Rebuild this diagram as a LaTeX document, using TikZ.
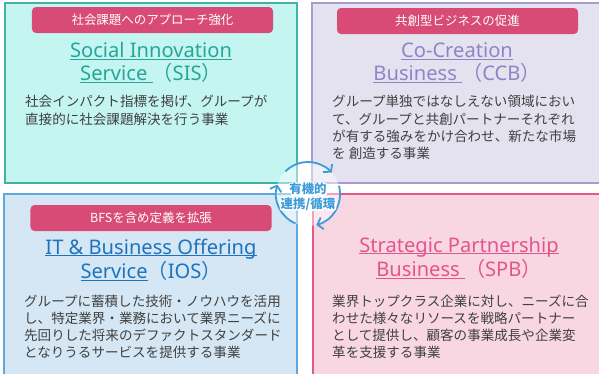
\documentclass[tikz,border=0pt]{standalone}
\usepackage{fontspec}
\setmainfont{Noto Sans CJK JP}
\newfontfamily\ttlfont{Noto Sans}
\usetikzlibrary{arrows.meta}
\definecolor{sisfill}{HTML}{C4F5F1}
\definecolor{sisline}{HTML}{40B3A5}
\definecolor{sistitle}{HTML}{26A69A}
\definecolor{ccbfill}{HTML}{E5E2EF}
\definecolor{ccbline}{HTML}{A89BD3}
\definecolor{ccbtitle}{HTML}{8E84C8}
\definecolor{iosfill}{HTML}{D5E7F4}
\definecolor{iosline}{HTML}{5FA8DE}
\definecolor{iostitle}{HTML}{1E73BE}
\definecolor{spbfill}{HTML}{F8D7E2}
\definecolor{spbline}{HTML}{E2588A}
\definecolor{spbtitle}{HTML}{E3558A}
\definecolor{hdrc}{HTML}{D84B77}
\definecolor{bodyc}{HTML}{404040}
\definecolor{cyc}{HTML}{3D9BD9}
\newcommand\myul[1]{\setbox0\hbox{#1}\rlap{\rule[-2pt]{\wd0}{0.9pt}}\box0}
\newcommand\haloed[1]{\special{pdf:literal direct 1 1 1 RG 3 w 1 j 2 Tr}#1\special{pdf:literal direct 0 Tr}}
\begin{document}
\begin{tikzpicture}[x=1bp,y=-1bp,
  box/.style={line width=1.5bp, inner sep=0pt, outer sep=0pt},
  hdr/.style={fill=hdrc, rounded corners=4bp, minimum width=241bp, minimum height=26bp, inner sep=0pt, text=white, font=\fontsize{12.5}{14}\selectfont},
  ttl/.style={inner sep=0pt, font=\fontsize{20.2}{22}\selectfont},
  bd/.style={inner sep=0pt, anchor=west, text=bodyc, font=\fontsize{13.6}{15}\selectfont},
  cyarr/.style={draw=cyc, line width=1.8bp, -{Straight Barb[length=5bp, width=12bp]}},
  ctx/.style={inner sep=0pt, font=\bfseries\fontsize{12.5}{13}\selectfont}
]
\useasboundingbox (0,0) rectangle (599,373);
% boxes
\node[box, draw=sisline, fill=sisfill, minimum width=292bp, minimum height=180bp] (sis) at (151,93) {};
\node[box, draw=ccbline, fill=ccbfill, minimum width=289bp, minimum height=180bp] (ccb) at (456.5,93) {};
\node[box, draw=iosline, fill=iosfill, minimum width=293bp, minimum height=182bp] (ios) at (150.5,285) {};
\node[box, draw=spbline, fill=spbfill, minimum width=289bp, minimum height=182bp] (spb) at (457.5,285) {};
% headers
\node[hdr] (h1) at (152.5,20) {社会課題へのアプローチ強化};
\node[hdr] (h2) at (457.5,21) {共創型ビジネスの促進};
\node[hdr] (h3) at (151,218) {BFSを含め定義を拡張};
% titles
\node[ttl, text=sistitle] (t1a) at (151,51) {{\ttlfont\myul{Social Innovation}}};
\node[ttl, text=sistitle] (t1b) at (151,73) {{\ttlfont\myul{Service\ }}（{\ttlfont SIS}）};
\node[ttl, text=ccbtitle] (t2a) at (457,51) {{\ttlfont\myul{Co-Creation}}};
\node[ttl, text=ccbtitle] (t2b) at (457,73) {{\ttlfont\myul{Business\ }}（{\ttlfont CCB}）};
\node[ttl, text=iostitle] (t3a) at (151,249) {{\ttlfont\myul{IT \& Business Offering}}};
\node[ttl, text=iostitle] (t3b) at (151,271) {{\ttlfont\myul{Service}}（{\ttlfont IOS}）};
\node[ttl, text=spbtitle] (t4a) at (459,247) {{\ttlfont\myul{Strategic Partnership}}};
\node[ttl, text=spbtitle] (t4b) at (459,269) {{\ttlfont\myul{Business\ }}（{\ttlfont SPB}）};
% bodies
\node[bd] (b1a) at (25,101) {社会インパクト指標を掲げ、グループが};
\node[bd] (b1b) at (25,119) {直接的に社会課題解決を行う事業};
\node[bd] (b2a) at (332,101) {グループ単独ではなしえない領域におい};
\node[bd] (b2b) at (332,119) {て、グループと共創パートナーそれぞれ};
\node[bd] (b2c) at (332,136) {が有する強みをかけ合わせ、新たな市場};
\node[bd] (b2d) at (332,153) {を 創造する事業};
\node[bd] (b3a) at (24,301) {グループに蓄積した技術・ノウハウを活用};
\node[bd] (b3b) at (24,318) {し、特定業界・業務において業界ニーズに};
\node[bd] (b3c) at (24,335) {先回りした将来のデファクトスタンダード};
\node[bd] (b3d) at (24,352) {となりうるサービスを提供する事業};
\node[bd] (b4a) at (332,301) {業界トップクラス企業に対し、ニーズに合};
\node[bd] (b4b) at (332,318) {わせた様々なリソースを戦略パートナー};
\node[bd] (b4c) at (332,335) {として提供し、顧客の事業成長や企業変};
\node[bd] (b4d) at (332,352) {革を支援する事業};
% cycle
\coordinate (cc) at (308,194);
\fill[white, opacity=0.45] (cc) circle (32);
\draw[cyarr] (cc) ++(-135:32) arc[start angle=-135, end angle=-42, radius=32];
\draw[cyarr] (cc) ++(-15:32) arc[start angle=-15, end angle=75, radius=32];
\draw[cyarr] (cc) ++(113:32) arc[start angle=113, end angle=197, radius=32];
\node[ctx, text=white] (c1h) at (308,189) {\haloed{有機的}};
\node[ctx, text=white] (c2h) at (308,204) {\haloed{連携/循環}};
\node[ctx, text=cyc] (c1) at (308,189) {有機的};
\node[ctx, text=cyc] (c2) at (308,204) {連携/循環};
\end{tikzpicture}
\end{document}
